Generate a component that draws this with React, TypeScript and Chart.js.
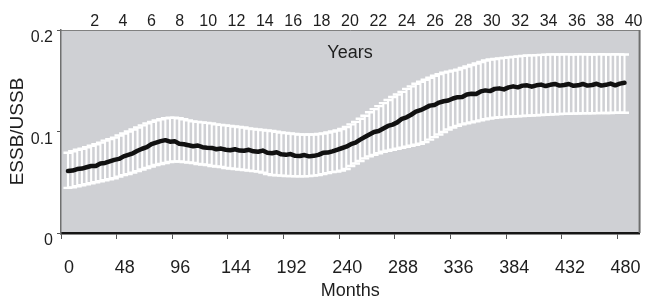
import React, { useEffect, useRef } from 'react';
import { Chart, registerables } from 'chart.js';

Chart.register(...registerables);

// ---- data ----
const months = [6, 10, 14, 18, 22, 26, 30, 34, 38, 42, 46, 50, 54, 58, 62, 66, 70, 74, 78, 82, 86, 90, 94, 98, 102, 106, 110, 114, 118, 122, 126, 130, 134, 138, 142, 146, 150, 154, 158, 162, 166, 170, 174, 178, 182, 186, 190, 194, 198, 202, 206, 210, 214, 218, 222, 226, 230, 234, 238, 242, 246, 250, 254, 258, 262, 266, 270, 274, 278, 282, 286, 290, 294, 298, 302, 306, 310, 314, 318, 322, 326, 330, 334, 338, 342, 346, 350, 354, 358, 362, 366, 370, 374, 378, 382, 386, 390, 394, 398, 402, 406, 410, 414, 418, 422, 426, 430, 434, 438, 442, 446, 450, 454, 458, 462, 466, 470, 474, 478, 482, 486];

const meanRatio = [
  0.061, 0.0615, 0.063, 0.0635, 0.0648, 0.066, 0.066, 0.0685, 0.069, 0.0705,
  0.072, 0.073, 0.0755, 0.077, 0.0785, 0.081, 0.083, 0.0845, 0.0875, 0.089,
  0.0905, 0.0915, 0.09, 0.0905, 0.088, 0.0875, 0.0865, 0.0855, 0.0862, 0.0845,
  0.084, 0.0838, 0.0825, 0.0832, 0.082, 0.0815, 0.0825, 0.0812, 0.081, 0.082,
  0.0805, 0.08, 0.0812, 0.079, 0.0785, 0.0795, 0.0775, 0.077, 0.0778, 0.076,
  0.0758, 0.0768, 0.0755, 0.076, 0.077, 0.079, 0.0792, 0.0805, 0.082, 0.0835,
  0.085, 0.0875, 0.089, 0.092, 0.0945, 0.097, 0.0995, 0.1005, 0.103, 0.1055,
  0.1068, 0.109, 0.1125, 0.114, 0.1165, 0.1195, 0.121, 0.1232, 0.1255, 0.126,
  0.1285, 0.1298, 0.1305, 0.1325, 0.1338, 0.134, 0.1365, 0.1372, 0.137, 0.1395,
  0.1405, 0.1398, 0.142, 0.1425, 0.1415, 0.1435, 0.1445, 0.1435, 0.1452, 0.1455,
  0.1442, 0.1455, 0.1462, 0.1448, 0.146, 0.1468, 0.1452, 0.1458, 0.1468, 0.145,
  0.1455, 0.1468, 0.1452, 0.1458, 0.147, 0.1452, 0.146, 0.1472, 0.1455, 0.1472,
  0.148,
];

const upperRatio = [
  0.079, 0.0805, 0.082, 0.083, 0.0845, 0.086, 0.0875, 0.089, 0.091, 0.0925,
  0.094, 0.096, 0.098, 0.1, 0.102, 0.104, 0.106, 0.108, 0.1095, 0.111,
  0.112, 0.113, 0.1135, 0.1135, 0.113, 0.112, 0.111, 0.11, 0.1095, 0.109,
  0.1085, 0.108, 0.107, 0.1065, 0.106, 0.1055, 0.105, 0.1045, 0.104, 0.103,
  0.1025, 0.102, 0.1015, 0.101, 0.1005, 0.0998, 0.099, 0.0985, 0.098, 0.0975,
  0.097, 0.097, 0.097, 0.097, 0.0975, 0.098, 0.099, 0.1, 0.101, 0.1025,
  0.1045, 0.107, 0.1095, 0.1125, 0.1155, 0.119, 0.122, 0.125, 0.128, 0.131,
  0.134, 0.1365, 0.139, 0.142, 0.1445, 0.147, 0.149, 0.151, 0.153, 0.155,
  0.1565, 0.158, 0.159, 0.16, 0.161, 0.1625, 0.164, 0.1655, 0.167, 0.1685,
  0.17, 0.171, 0.1715, 0.172, 0.1725, 0.173, 0.1735, 0.174, 0.1745, 0.175,
  0.175, 0.1752, 0.1755, 0.1757, 0.176, 0.176, 0.1758, 0.1762, 0.176, 0.1758,
  0.1762, 0.176, 0.1761, 0.1759, 0.176, 0.1762, 0.1758, 0.176, 0.1761, 0.176,
  0.1758,
];

const lowerRatio = [
  0.0445, 0.045, 0.046, 0.047, 0.048, 0.049, 0.05, 0.051, 0.052, 0.053,
  0.054, 0.0555, 0.057, 0.058, 0.0595, 0.061, 0.0625, 0.064, 0.0655, 0.067,
  0.068, 0.069, 0.07, 0.0705, 0.0705, 0.07, 0.0695, 0.069, 0.068, 0.0675,
  0.067, 0.066, 0.0655, 0.065, 0.064, 0.0635, 0.063, 0.0625, 0.062, 0.0615,
  0.061, 0.0605, 0.0595, 0.058, 0.0572, 0.0568, 0.0565, 0.0562, 0.056, 0.0558,
  0.0558, 0.0558, 0.056, 0.0565, 0.057, 0.058, 0.059, 0.06, 0.0605, 0.0615,
  0.063, 0.066, 0.0685, 0.071, 0.0735, 0.0755, 0.077, 0.0785, 0.08, 0.081,
  0.082, 0.083, 0.084, 0.085, 0.086, 0.087, 0.088, 0.0895, 0.092, 0.0945,
  0.097, 0.0995, 0.102, 0.104, 0.1055, 0.107, 0.108, 0.109, 0.11, 0.111,
  0.112, 0.1128, 0.1135, 0.114, 0.1142, 0.1145, 0.1148, 0.115, 0.1152, 0.1155,
  0.1158, 0.116, 0.1162, 0.1165, 0.1168, 0.117, 0.1172, 0.1174, 0.1175, 0.1176,
  0.1178, 0.1179, 0.118, 0.118, 0.1181, 0.1182, 0.1183, 0.1183, 0.1184, 0.1185,
  0.1185,
];

const monthTicks = [0, 48, 96, 144, 192, 240, 288, 336, 384, 432, 480];
const yearTicks = [2, 4, 6, 8, 10, 12, 14, 16, 18, 20, 22, 24, 26, 28, 30, 32, 34, 36, 38, 40];
const yTicks = [0, 0.1, 0.2];
const yTickLabels = ['0', '0.1', '0.2'];

const FONT = 'Arial, "Liberation Sans", Helvetica, sans-serif';
const PLOT_BG = '#cfd0d4';
const TEXT = '#1e1e1e';

export default function App() {
  const ref = useRef<HTMLCanvasElement>(null);

  useEffect(() => {
    const canvas = ref.current;
    if (!canvas) return;

    const bgPlugin = {
      id: 'plotBg',
      beforeDraw(chart: any) {
        const { ctx, chartArea: a } = chart;
        ctx.save();
        ctx.fillStyle = PLOT_BG;
        ctx.fillRect(a.left, a.top, a.right - a.left, a.bottom - a.top);
        ctx.restore();
      },
    };

    const errPlugin = {
      id: 'errBars',
      beforeDatasetsDraw(chart: any) {
        const { ctx } = chart;
        const xs = chart.scales.x;
        const ys = chart.scales.y;
        ctx.save();
        ctx.strokeStyle = '#ffffff';
        for (let i = 0; i < months.length; i++) {
          const px = xs.getPixelForValue(months[i]);
          const yu = ys.getPixelForValue(upperRatio[i]);
          const yl = ys.getPixelForValue(lowerRatio[i]);
          ctx.lineWidth = 2.1;
          ctx.beginPath();
          ctx.moveTo(px, yu);
          ctx.lineTo(px, yl);
          ctx.stroke();
          ctx.lineWidth = 2.4;
          ctx.beginPath();
          ctx.moveTo(px - 4.5, yu);
          ctx.lineTo(px + 4.5, yu);
          ctx.moveTo(px - 4.5, yl);
          ctx.lineTo(px + 4.5, yl);
          ctx.stroke();
        }
        ctx.restore();
      },
    };

    const framePlugin = {
      id: 'frame',
      afterDraw(chart: any) {
        const { ctx, chartArea: a } = chart;
        ctx.save();
        ctx.strokeStyle = '#6e6e6e';
        ctx.lineWidth = 2;
        ctx.beginPath();
        ctx.moveTo(a.right, a.top);
        ctx.lineTo(a.right, a.bottom);
        ctx.stroke();
        const x2 = chart.scales.x2;
        const ys = chart.scales.y;
        ctx.fillStyle = TEXT;
        ctx.font = `18px ${FONT}`;
        ctx.textAlign = 'center';
        ctx.textBaseline = 'middle';
        ctx.fillText('Years', x2.getPixelForValue(20), ys.getPixelForValue(0.177));
        ctx.restore();
      },
    };

    const chart = new Chart(canvas, {
      type: 'line',
      data: {
        datasets: [
          {
            data: months.map((m, i) => ({ x: m, y: meanRatio[i] })),
            borderColor: '#111111',
            borderWidth: 4.5,
            pointRadius: 0,
            tension: 0,
            borderJoinStyle: 'round',
            borderCapStyle: 'round',
            xAxisID: 'x',
            yAxisID: 'y',
          },
        ],
      },
      options: {
        responsive: false,
        animation: false,
        devicePixelRatio: 1,
        layout: { padding: { left: 0, right: 6, top: 0, bottom: 0 } },
        plugins: { legend: { display: false }, tooltip: { enabled: false } },
        scales: {
          x: {
            type: 'linear',
            position: 'bottom',
            min: 0,
            max: 499,
            afterBuildTicks: (s: any) => {
              s.ticks = monthTicks.map((v) => ({ value: v }));
            },
            afterFit: (s: any) => {
              s.height = 68;
            },
            ticks: {
              autoSkip: false,
              maxRotation: 0,
              padding: 18,
              labelOffset: 8,
              color: TEXT,
              font: { family: FONT, size: 18 },
            },
            grid: {
              drawOnChartArea: false,
              drawTicks: true,
              tickLength: 6,
              tickColor: '#555',
              tickWidth: 1,
            },
            border: { display: true, color: '#151515', width: 2.5 },
            title: {
              display: true,
              text: 'Months',
              color: TEXT,
              font: { family: FONT, size: 18 },
              padding: { top: 0, bottom: -1 },
            },
          },
          x2: {
            type: 'linear',
            position: 'top',
            min: -0.375,
            max: 40.42,
            afterBuildTicks: (s: any) => {
              s.ticks = yearTicks.map((v) => ({ value: v }));
            },
            afterFit: (s: any) => {
              s.height = 30;
            },
            ticks: {
              autoSkip: false,
              maxRotation: 0,
              padding: -1,
              color: TEXT,
              font: { family: FONT, size: 16 },
            },
            grid: { drawOnChartArea: false, drawTicks: false },
            border: { display: true, color: '#808080', width: 1 },
          },
          y: {
            type: 'linear',
            position: 'left',
            min: 0,
            max: 0.2,
            afterBuildTicks: (s: any) => {
              s.ticks = yTicks.map((v) => ({ value: v }));
            },
            afterFit: (s: any) => {
              s.width = 61;
            },
            ticks: {
              autoSkip: false,
              padding: 4,
              labelOffset: 8,
              color: TEXT,
              font: { family: FONT, size: 16 },
              callback: (v: any) => {
                const idx = yTicks.findIndex((t) => Math.abs(t - Number(v)) < 1e-9);
                return idx >= 0 ? yTickLabels[idx] : '';
              },
            },
            grid: {
              drawOnChartArea: false,
              drawTicks: true,
              tickLength: 4,
              tickColor: '#555',
            },
            border: { display: true, color: '#707070', width: 1.5 },
            title: {
              display: true,
              text: 'ESSB/USSB',
              color: TEXT,
              font: { family: FONT, size: 19 },
              padding: { top: 6, bottom: 0 },
            },
          },
        },
      },
      plugins: [bgPlugin, errPlugin, framePlugin],
    } as any);

    return () => {
      chart.destroy();
    };
  }, []);

  return (
    <div style={{ position: 'absolute', left: 0, top: 0, width: 651, height: 301, background: '#ffffff' }}>
      <canvas ref={ref} width={651} height={301} style={{ display: 'block', width: 651, height: 301 }} />
    </div>
  );
}
